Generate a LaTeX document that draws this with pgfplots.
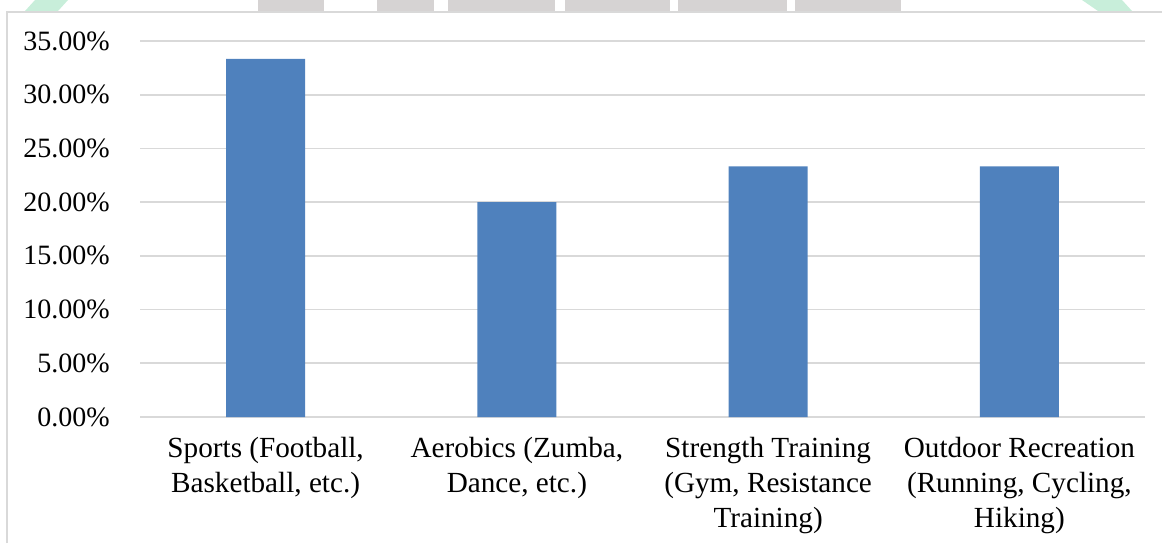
\documentclass[border=0pt]{standalone}
\usepackage{pgfplots}
\pgfplotsset{compat=1.18}
\usepackage{fontspec}
\setmainfont{Liberation Serif}
\definecolor{barblue}{RGB}{79,129,189}
\definecolor{gridgray}{RGB}{217,217,217}
\definecolor{framegray}{RGB}{217,217,217}
\definecolor{wmgray}{RGB}{214,211,211}
\definecolor{wmgreen}{RGB}{200,238,218}
\begin{document}
\begin{tikzpicture}[x=0.5pt,y=0.5pt]
\path[use as bounding box] (0,0) rectangle (1162,543);
% faint background watermark strip at the top
\fill[wmgray] (258,532) rectangle (324,543);
\fill[wmgray] (377,532) rectangle (434,543);
\fill[wmgray] (448,532) rectangle (555,543);
\fill[wmgray] (565,532) rectangle (670,543);
\fill[wmgray] (678,532) rectangle (787,543);
\fill[wmgray] (795,532) rectangle (901,543);
\fill[wmgreen] (35,543) -- (68,543) -- (58,532) -- (25,532) -- cycle;
\fill[wmgreen] (1082,543) -- (1122,543) -- (1132,532) -- (1098,532) -- cycle;
% chart frame
\draw[framegray, line width=1pt] (7,0) -- (7,531.5) -- (1162,531.5);
\begin{axis}[
  at={(70pt,63pt)}, anchor=south west,
  scale only axis, width=502.5pt, height=188pt,
  xmin=-0.5, xmax=3.5, ymin=0, ymax=35,
  axis line style={draw=none},
  ymajorgrids, grid style={gridgray, line width=0.8pt},
  major tick length=0pt, tick style={draw=none},
  ytick={0,5,10,15,20,25,30,35},
  yticklabels={0.00\%,5.00\%,10.00\%,15.00\%,20.00\%,25.00\%,30.00\%,35.00\%},
  yticklabel style={font=\fontsize{14pt}{17pt}\selectfont, inner sep=0pt, xshift=-15pt},
  xtick={0,1,2,3},
  xticklabels={{Sports (Football,\\Basketball, etc.)},{Aerobics (Zumba,\\Dance, etc.)},{Strength Training\\(Gym, Resistance\\Training)},{Outdoor Recreation\\(Running, Cycling,\\Hiking)}},
  xticklabel style={font=\fontsize{14.6pt}{17.5pt}\selectfont, align=center, inner sep=0pt, yshift=-10pt},
]
\addplot[ybar, fill=barblue, draw=none, bar width=39.5pt] coordinates {(0,33.33) (1,20) (2,23.33) (3,23.33)};
\end{axis}
\end{tikzpicture}
\end{document}
